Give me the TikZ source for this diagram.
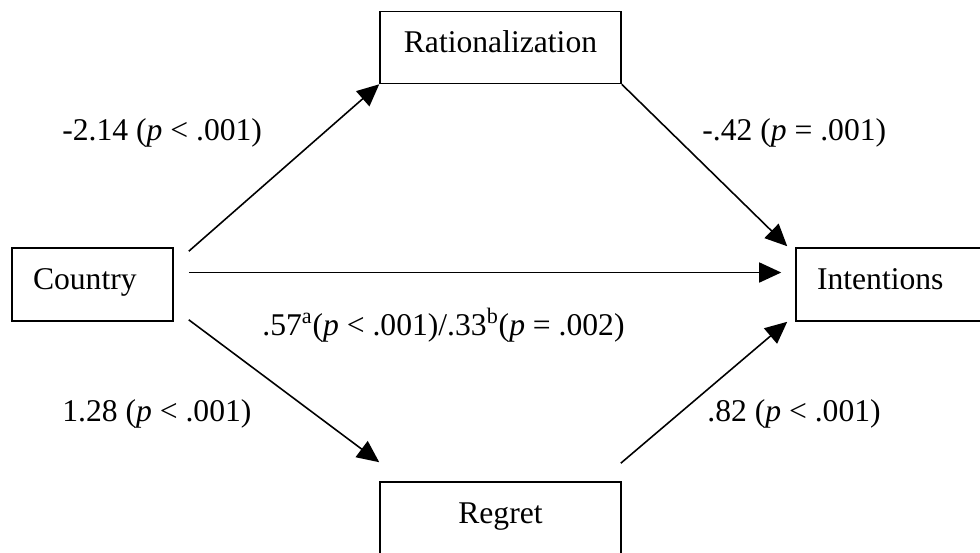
\documentclass[tikz,border=0pt]{standalone}
\usepackage{fontspec}
\setmainfont{Liberation Serif}
\usepackage{tikz}
\usetikzlibrary{arrows.meta,positioning,calc}

\begin{document}
\begin{tikzpicture}[
    x=0.02cm, y=-0.02cm,
    varbox/.style={rectangle, draw, line width=0.9pt, minimum width=4.82cm, minimum height=1.44cm,
        text height=0.45cm, text depth=0.27cm, font=\fontsize{18}{21}\selectfont},
    sidebox/.style={varbox, minimum height=1.46cm, align=left, inner xsep=0.42cm},
    lab/.style={anchor=base west, inner sep=0pt, font=\fontsize{18}{21}\selectfont},
    arrow/.style={-{Triangle[length=0.44cm, width=0.4cm]}, line width=0.9pt}
]
\useasboundingbox (0,0) rectangle (980,552);

% Variables
\node[varbox] (rat) at (500.5,47.5) {Rationalization};
\node[sidebox, minimum width=3.22cm, text width=2.38cm] (country) at (92.5,284.5) {Country};
\node[sidebox, minimum width=3.88cm, text width=3.04cm] (int) at (893,284.5) {Intentions};
\node[varbox, minimum height=1.46cm] (reg) at (500.5,518.5) {Regret};

% Paths
\draw[arrow] ($(country.north east)+(15,4)$) -- (rat.south west);
\draw[arrow] (rat.south east) -- ($(int.north west)+(-8,-1)$);
\draw[arrow] ($(country.east)+(15,-12)$) -- ($(int.west)+(-14,-12)$);
\draw[arrow] ($(country.south east)+(15,-2)$) -- ($(reg.north west)+(0,-19)$);
\draw[arrow] ($(reg.north east)+(-1,-18)$) -- ($(int.south west)+(-8,0)$);

% Coefficients
\node[lab] (a1) at (62,140) {-2.14 (\textit{p} < .001)};
\node[lab] (b1) at (702,140) {-.42 (\textit{p} = .001)};
\node[lab] (c1) at (262,335) {.57\textsuperscript{a}(\textit{p} < .001)/.33\textsuperscript{b}(\textit{p} = .002)};
\node[lab] (a2) at (62,421) {1.28 (\textit{p} < .001)};
\node[lab] (b2) at (707,421) {.82 (\textit{p} < .001)};

\end{tikzpicture}
\end{document}
